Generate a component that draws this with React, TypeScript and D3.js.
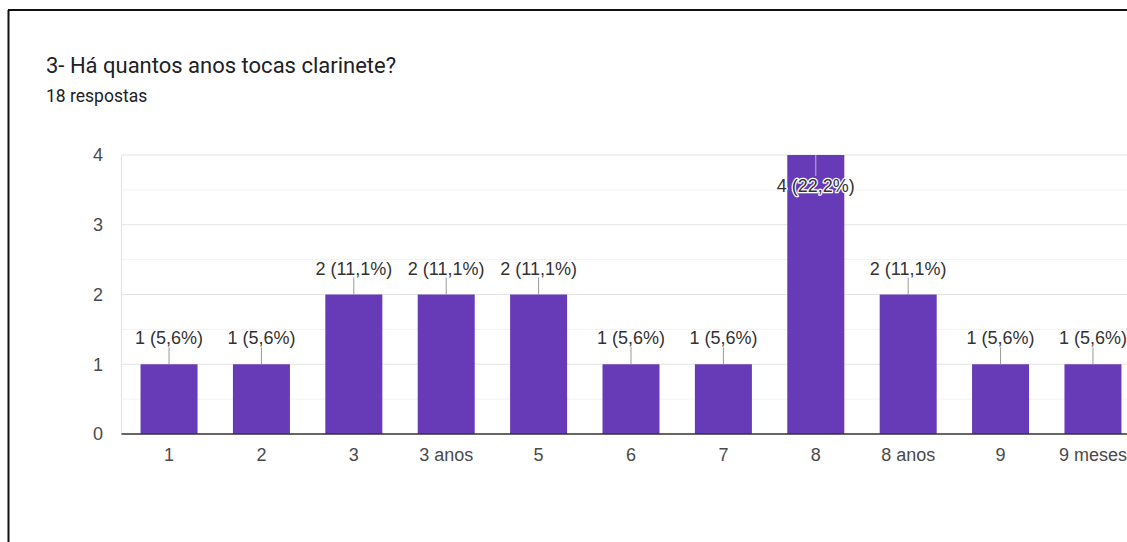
import React from "react";
import * as d3 from "d3";

const categories: string[] = ["1", "2", "3", "3 anos", "5", "6", "7", "8", "8 anos", "9", "9 meses"];
const counts: number[] = [1, 1, 2, 2, 2, 1, 1, 4, 2, 1, 1];
const totalResponses = 18;
const yTicks: number[] = [0, 1, 2, 3, 4];
const title = "3- Há quantos anos tocas clarinete?";
const subtitle = "18 respostas";

const W = 1127;
const H = 542;
const FONT = "Roboto, 'Liberation Sans', Arial, sans-serif";
const CHART_FONT = "'Liberation Sans', Arial, sans-serif";

export default function App() {
  const x = d3
    .scaleBand<string>()
    .domain(categories)
    .range([121.5, 1140.5])
    .paddingInner(0.383)
    .paddingOuter(0.206);
  const y = d3.scaleLinear().domain([0, 4]).range([434, 155]);
  const minor = d3.range(0.5, 4, 1);
  const fmt = (v: number) =>
    `${v} (${((v / totalResponses) * 100).toFixed(1).replace(".", ",")}%)`;

  return (
    <svg
      width={W}
      height={H}
      style={{ position: "absolute", left: 0, top: 0, background: "#fff" }}
      fontFamily={FONT}
    >
      <rect x={0} y={0} width={W} height={H} fill="#fff" />
      {/* frame */}
      <line x1={8.5} x2={8.5} y1={10} y2={H} stroke="#111" strokeWidth={2} />
      <line x1={8} x2={W} y1={10} y2={10} stroke="#111" strokeWidth={2} />

      <text x={46} y={72.5} fontSize={22} fill="#202124">
        {title}
      </text>
      <text x={46} y={101.5} fontSize={17.5} fill="#202124">
        {subtitle}
      </text>

      {/* gridlines */}
      {minor.map((t) => (
        <line key={"m" + t} x1={121.5} x2={W} y1={y(t)} y2={y(t)} stroke="#f2f2f2" strokeWidth={1} />
      ))}
      {yTicks.slice(1).map((t) => (
        <line key={"g" + t} x1={121.5} x2={W} y1={y(t)} y2={y(t)} stroke="#e4e4e4" strokeWidth={1.2} />
      ))}
      <line x1={121.5} x2={121.5} y1={y(4)} y2={y(0)} stroke="#e4e4e4" strokeWidth={1.2} />

      {/* y tick labels */}
      {yTicks.map((t) => (
        <text key={"y" + t} x={103} y={y(t)} dy="0.35em" textAnchor="end" fontSize={18} fill="#4a4a4a" fontFamily={CHART_FONT}>
          {t}
        </text>
      ))}

      {/* bars */}
      {categories.map((c, i) => (
        <rect
          key={"b" + c}
          x={x(c)!}
          y={y(counts[i])}
          width={x.bandwidth()}
          height={y(0) - y(counts[i])}
          fill="#673ab7"
        />
      ))}

      {/* baseline */}
      <line x1={121.5} x2={W} y1={y(0)} y2={y(0)} stroke="#333" strokeWidth={1.6} />

      {/* x labels */}
      {categories.map((c) => (
        <text key={"x" + c} x={x(c)! + x.bandwidth() / 2} y={461} textAnchor="middle" fontSize={18} fill="#4a4a4a" fontFamily={CHART_FONT}>
          {c}
        </text>
      ))}

      {/* data labels with leader lines */}
      {categories.map((c, i) => {
        const cx = x(c)! + x.bandwidth() / 2;
        const top = y(counts[i]);
        const inside = top - 40 < y(4) - 5;
        const lineY1 = inside ? top : top - 17;
        const lineY2 = inside ? top + 21 : top;
        const base = inside ? top + 37 : top - 20;
        return (
          <g key={"l" + c}>
            <line x1={cx} x2={cx} y1={lineY1} y2={lineY2} stroke={inside ? "#bbb" : "#999"} strokeWidth={1} />
            {inside ? (
              <text
                x={cx}
                y={base}
                textAnchor="middle"
                fontSize={18}
                fill="#333"
                stroke="#fff"
                strokeWidth={2.5}
                strokeLinejoin="round"
                style={{ paintOrder: "stroke" }}
                fontFamily={CHART_FONT}
              >
                {fmt(counts[i])}
              </text>
            ) : (
              <text x={cx} y={base} textAnchor="middle" fontSize={18} fill="#333" fontFamily={CHART_FONT}>
                {fmt(counts[i])}
              </text>
            )}
          </g>
        );
      })}
    </svg>
  );
}
